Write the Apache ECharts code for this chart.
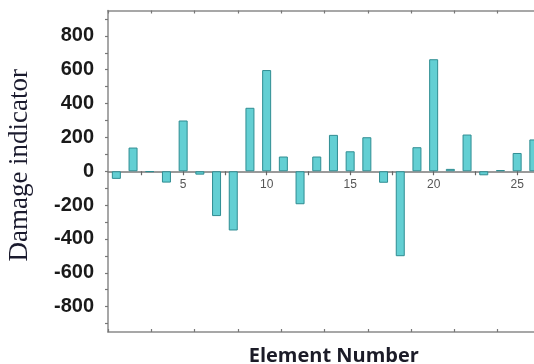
<!DOCTYPE html>
<html>
<head>
<meta charset="utf-8">
<script src="https://cdn.jsdelivr.net/npm/echarts@6/dist/echarts.min.js"></script>
<style>
  html, body { margin: 0; padding: 0; background: #fff; }
  #chart { width: 534px; height: 364px; }
</style>
</head>
<body>
<div id="chart"></div>
<script>
(function () {
  // element numbers and damage indicator values
  const elements = [1, 2, 3, 4, 5, 6, 7, 8, 9, 10, 11, 12, 13, 14, 15, 16, 17, 18, 19, 20, 21, 22, 23, 24, 25, 26];
  const damage = [-45, 140, -4, -67, 300, -20, -265, -350, 375, 598, 87, -195, 87, 215, 118, 201, -68, -502, 142, 662, 14, 217, -24, 7, 108, 188];
  const yLabels = [-800, -600, -400, -200, 0, 200, 400, 600, 800];
  const yTicks = [-900, -800, -700, -600, -500, -400, -300, -200, -100, 0, 100, 200, 300, 400, 500, 600, 700, 800, 900];
  const xLabels = [5, 10, 15, 20, 25];
  const xTicks = [2.5, 5, 7.5, 10, 12.5, 15, 17.5, 20, 22.5, 25, 27.5];

  const chartDom = document.getElementById("chart");
  const myChart = echarts.init(chartDom, null, { renderer: "canvas" });

  // plot box runs past the right edge of the picture, like the source figure
  const gridBox = { left: 108, top: 10.5, height: 321.5, width: 467.6, outerBoundsMode: "none", containLabel: false };
  const frameColor = "#8a8a8a";

  const option = {
    backgroundColor: "#ffffff",
    animation: false,
    grid: [
      Object.assign({}, gridBox),
      Object.assign({}, gridBox)
    ],
    xAxis: [
      {
        // element axis drawn on the zero line (moved up from the bottom)
        gridIndex: 0,
        type: "value",
        min: 0.5,
        max: 28.5,
        position: "bottom",
        offset: -160.75,
        axisLine: { onZero: false, lineStyle: { color: "#7a7a7a", width: 1.5 } },
        axisTick: { show: true, customValues: xTicks, length: 4, lineStyle: { color: "#666", width: 1.2 } },
        axisLabel: { customValues: xLabels, color: "#555", fontSize: 12, margin: 7, fontFamily: "Liberation Sans" },
        splitLine: { show: false }
      },
      {
        // frame top
        gridIndex: 1,
        type: "value",
        min: 0,
        max: 10.8,
        interval: 1,
        position: "top",
        axisLine: { onZero: false, lineStyle: { color: frameColor, width: 1.5 } },
        axisTick: { inside: true, length: 3, lineStyle: { color: "#777", width: 1.2 } },
        axisLabel: { show: false },
        splitLine: { show: false }
      },
      {
        // frame bottom
        gridIndex: 1,
        type: "value",
        min: 0,
        max: 10.8,
        interval: 1,
        position: "bottom",
        axisLine: { onZero: false, lineStyle: { color: frameColor, width: 1.5 } },
        axisTick: { inside: true, length: 3, lineStyle: { color: "#777", width: 1.2 } },
        axisLabel: { show: false },
        splitLine: { show: false },
        name: "Element Number",
        nameLocation: "middle",
        nameGap: 14,
        nameTextStyle: {
          fontFamily: "Open Sans",
          fontWeight: "bold",
          fontSize: 20,
          color: "#1c1c28",
          verticalAlign: "top",
          padding: [0, 16, 0, 0]
        }
      }
    ],
    yAxis: [
      {
        gridIndex: 0,
        type: "value",
        min: -950,
        max: 950,
        show: false
      },
      {
        gridIndex: 1,
        type: "value",
        min: -950,
        max: 950,
        position: "left",
        axisLine: { show: true, onZero: false, lineStyle: { color: frameColor, width: 1.5 } },
        axisTick: { show: true, customValues: yTicks, length: 3, lineStyle: { color: "#777", width: 1.2 } },
        axisLabel: {
          customValues: yLabels,
          color: "#1a1a1a",
          fontWeight: "bold",
          fontSize: 20,
          fontFamily: "Liberation Sans",
          margin: 14
        },
        splitLine: { show: false },
        name: "Damage indicator",
        nameLocation: "middle",
        nameGap: 75,
        nameRotate: 90,
        nameTextStyle: {
          fontFamily: "Liberation Serif",
          fontSize: 27,
          color: "#1b1b2e",
          padding: [0, 0, 0, 12]
        }
      }
    ],
    series: [
      {
        name: "damage",
        type: "bar",
        xAxisIndex: 0,
        yAxisIndex: 0,
        barWidth: 9,
        data: elements.map((e, i) => [e, damage[i]]),
        itemStyle: {
          color: "#63cfd3",
          borderColor: "#2f8d92",
          borderWidth: 1
        }
      }
    ]
  };
  myChart.setOption(option);
})();
</script>
</body>
</html>
